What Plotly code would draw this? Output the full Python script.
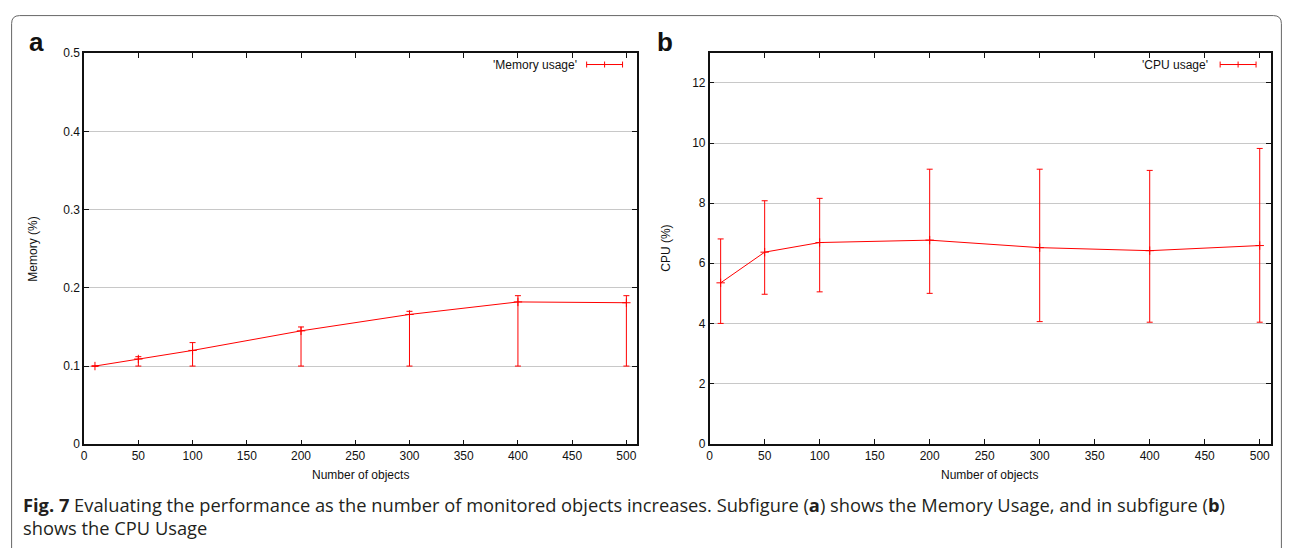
import plotly.graph_objects as go

# The page is photographed with the figure shifted by the body margin and
# slightly compressed vertically; positions below are given in target-picture
# pixels and mapped to figure (paper) coordinates by px()/py().
W, H = 1274, 540
OX = 9.0          # horizontal offset of the figure in the picture
OY = 14.4         # vertical offset of the figure in the picture
SY = 0.9755       # vertical scale of the picture

# ---------------- data ----------------
n_objects = [10, 50, 100, 200, 300, 400, 500]

mem_mean = [0.100, 0.109, 0.120, 0.145, 0.166, 0.182, 0.181]
mem_max = [0.100, 0.112, 0.130, 0.150, 0.170, 0.190, 0.190]
mem_min = [0.100, 0.100, 0.100, 0.100, 0.100, 0.100, 0.100]

cpu_mean = [5.35, 6.37, 6.69, 6.77, 6.52, 6.42, 6.59]
cpu_max = [6.81, 8.08, 8.16, 9.13, 9.13, 9.09, 9.82]
cpu_min = [4.00, 4.97, 5.05, 5.00, 4.06, 4.04, 4.04]

x_ticks = [0, 50, 100, 150, 200, 250, 300, 350, 400, 450, 500]
mem_ticks = [0, 0.1, 0.2, 0.3, 0.4, 0.5]
mem_ticktext = ["0", "0.1", "0.2", "0.3", "0.4", "0.5"]
cpu_ticks = [0, 2, 4, 6, 8, 10, 12]

mem_label = "'Memory usage'"
cpu_label = "'CPU usage'"
x_title = "Number of objects"
mem_title = "Memory (%)"
cpu_title = "CPU (%)"
caption1 = ("<b>Fig. 7</b> Evaluating the performance as the number of monitored objects increases. "
            "Subfigure (<b>a</b>) shows the Memory Usage, and in subfigure (<b>b</b>)")
caption2 = "shows the CPU Usage"

# ---------------- helpers ----------------
def px(x):
    return (x - OX) / W


def py(y):
    fy = (y - OY) / SY
    return 1 - fy / H


RED = "#ff0000"
INK = "#111111"
FONT = "Liberation Sans"

fig = go.Figure()


def add_series(mean, lo, hi, xa, ya):
    fig.add_trace(go.Scatter(
        x=n_objects, y=mean, mode="lines+markers", xaxis=xa, yaxis=ya,
        showlegend=False,
        line=dict(color=RED, width=1),
        marker=dict(symbol="cross-thin", size=6, color=RED, line=dict(color=RED, width=1)),
        error_y=dict(type="data", symmetric=False,
                     array=[h - m for h, m in zip(hi, mean)],
                     arrayminus=[m - l for m, l in zip(mean, lo)],
                     color=RED, thickness=1, width=3),
    ))


add_series(mem_mean, mem_min, mem_max, "x", "y")
add_series(cpu_mean, cpu_min, cpu_max, "x2", "y2")

axis_common = dict(
    showline=True, linecolor=INK, linewidth=1.5, mirror="ticks",
    ticks="inside", ticklen=5, tickwidth=1, tickcolor=INK,
    zeroline=False, tickfont=dict(family=FONT, size=12, color=INK),
)

fig.update_layout(
    width=W, height=H, autosize=False,
    margin=dict(l=0, r=0, t=0, b=0),
    paper_bgcolor="white", plot_bgcolor="white",
    showlegend=False,
    xaxis=dict(axis_common, range=[0, 510], tickvals=x_ticks, showgrid=False,
               domain=[px(82.3), px(636.7)], anchor="y"),
    yaxis=dict(axis_common, range=[0, 0.5], tickvals=mem_ticks, ticktext=mem_ticktext,
               showgrid=True, gridcolor="#c8c8c8", gridwidth=1,
               domain=[py(444.3), py(52.7)], anchor="x"),
    xaxis2=dict(axis_common, range=[0, 510], tickvals=x_ticks, showgrid=False,
                domain=[px(709.3), px(1271.7)], anchor="y2"),
    yaxis2=dict(axis_common, range=[0, 13], tickvals=cpu_ticks,
                showgrid=True, gridcolor="#c8c8c8", gridwidth=1,
                domain=[py(443.7), py(52.3)], anchor="x2"),
)

ann = []


def text(x, y, s, size=12, xanchor="center", yanchor="middle", angle=0, family=FONT, color=INK):
    ann.append(dict(x=px(x), y=py(y), xref="paper", yref="paper", text=s, showarrow=False,
                    xanchor=xanchor, yanchor=yanchor, textangle=angle,
                    font=dict(family=family, size=size, color=color)))


# panel letters
text(34.5, 41, "<b>a</b>", size=26)
text(665, 41, "<b>b</b>", size=26)
# axis titles
text(359.5, 475, x_title)
text(990, 475, x_title)
text(31, 248.5, mem_title, angle=-90)
text(666, 248, cpu_title, angle=-90)
# legend texts
text(578, 64, mem_label, xanchor="right")
text(1211, 64, cpu_label, xanchor="right")
# caption
text(19, 505, caption1, size=18.3, xanchor="left", family="Open Sans", color="#231f20")
text(19, 528, caption2, size=18.3, xanchor="left", family="Open Sans", color="#231f20")

shapes = []


def seg(x0, y0, x1, y1, color=RED, width=1):
    shapes.append(dict(type="line", xref="paper", yref="paper",
                       x0=px(x0), y0=py(y0), x1=px(x1), y1=py(y1),
                       line=dict(color=color, width=width)))


# legend keys (gnuplot-style error-bar sample)
for (a, b, yk) in [(586, 622, 64), (1221, 1257, 64)]:
    seg(a, yk, b, yk)
    seg(a, yk - 3, a, yk + 3)
    seg(b, yk - 3, b, yk + 3)
    m = (a + b) / 2
    seg(m, yk - 3, m, yk + 3)

# outer frame with rounded top corners (kept inside the figure area)
top = OY + 0.6 * SY
left = OX + 0.6
right = OX + W - 0.6
border = ("M {a},{b} L {a},{c} Q {a},{d} {e},{d} L {f},{d} Q {g},{d} {g},{c} L {g},{b}").format(
    a=px(left), b=py(560), c=py(top + 8), d=py(top), e=px(left + 8), f=px(right - 8), g=px(right))
shapes.append(dict(type="path", xref="paper", yref="paper", path=border,
                   line=dict(color="#666666", width=1)))

fig.update_layout(annotations=ann, shapes=shapes)

fig.write_html("out.html")
